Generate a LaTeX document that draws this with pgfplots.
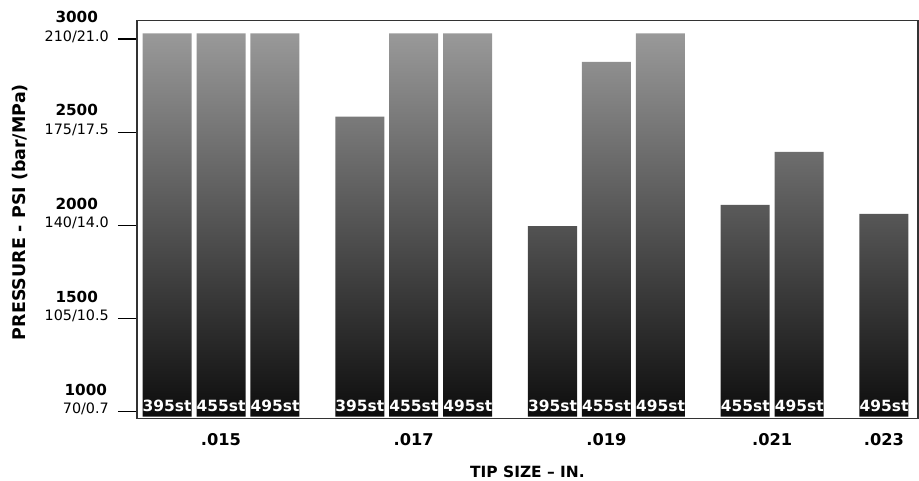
\documentclass[border=0pt]{standalone}
\usepackage{fontspec}
\setmainfont{DejaVu Sans}
\usepackage{pgfplots}
\pgfplotsset{compat=1.18}

\begin{document}
\begin{tikzpicture}
\begin{axis}[
  scale only axis, width=781bp, height=398bp,
  xmin=-0.556, xmax=13.91,
  ymin=962, ymax=3098,
  % bars start at 973 instead of 0
  y coord trafo/.code={\pgfmathparse{#1-973}},
  y coord inv trafo/.code={\pgfmathparse{#1+973}},
  axis line style={black!80, line width=1.5bp},
  xtick={1,4.57,8.14,11.21,13.28},
  xticklabels={.015,.017,.019,.021,.023},
  xticklabel style={font=\fontsize{16.3}{19}\selectfont\bfseries, yshift=8bp},
  major x tick style={draw=none},
  ytick={1000,1500,2000,2500,3000},
  yticklabels={{\textbf{\fontsize{15.3}{18.5}\selectfont 1000}\\70/0.7},
    {\textbf{\fontsize{15.3}{18.5}\selectfont 1500}\\105/10.5},
    {\textbf{\fontsize{15.3}{18.5}\selectfont 2000}\\140/14.0},
    {\textbf{\fontsize{15.3}{18.5}\selectfont 2500}\\175/17.5},
    {\textbf{\fontsize{15.3}{18.5}\selectfont 3000}\\210/21.0}},
  yticklabel style={align=center, font=\fontsize{14.4}{18.5}\selectfont, inner sep=0pt, anchor=east, xshift=-9bp, yshift=12bp},
  ytick pos=left, tick align=outside,
  major tick length=19bp,
  major y tick style={black, line width=1.2bp},
  xlabel={TIP SIZE -- IN.},
  xlabel style={font=\fontsize{15.5}{18}\selectfont\bfseries,
    at={(axis description cs:0.5,0)}, anchor=base, yshift=-59bp},
  ylabel={PRESSURE - PSI (bar/MPa)},
  ylabel style={font=\fontsize{17.5}{20}\selectfont\bfseries,
    at={(axis description cs:-0.1498,0.519)}, anchor=center},
  clip=false,
]
\addplot[ybar, bar width=49bp, bar shift=0pt, draw=none,
  top color=black!40, middle color=black!75, bottom color=black!95] coordinates {
  (0,3030) (1,3030) (2,3030)
  (3.57,2583) (4.57,3030) (5.57,3030)
  (7.14,1995) (8.14,2877) (9.14,3030)
  (10.71,2109) (11.71,2394)
  (13.28,2061)
};
\addplot[only marks, mark=none, nodes near coords, point meta=explicit symbolic,
  every node near coord/.style={anchor=base, yshift=5bp, inner sep=0pt, text=white,
    font=\fontsize{15.5}{18}\selectfont\bfseries}]
  table[meta=lab] {
x y lab
0 973 395st
1 973 455st
2 973 495st
3.57 973 395st
4.57 973 455st
5.57 973 495st
7.14 973 395st
8.14 973 455st
9.14 973 495st
10.71 973 455st
11.71 973 495st
13.28 973 495st
};
\end{axis}
\pgfresetboundingbox
\path[use as bounding box] (-137bp,-62.3bp) rectangle (782bp,418.7bp);
\end{tikzpicture}
\end{document}
